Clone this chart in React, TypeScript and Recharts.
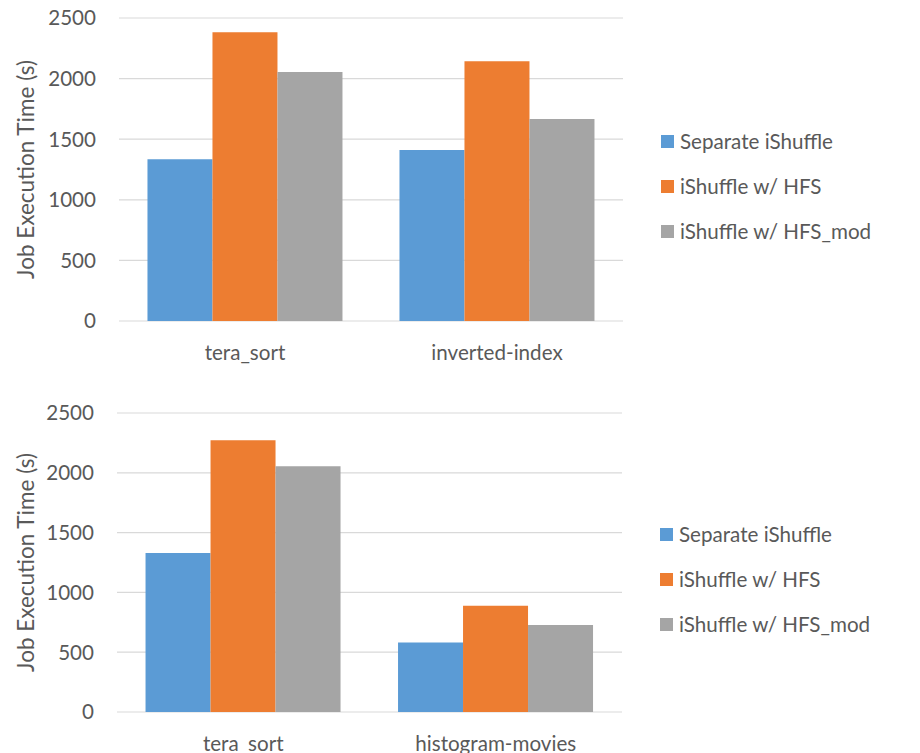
import React from 'react';
import { BarChart, Bar, XAxis, YAxis, CartesianGrid, Legend } from 'recharts';

// Job execution times (seconds) per workload
const categoriesTop = ['tera_sort', 'inverted-index'];
const separateTop = [1334, 1411];
const hfsTop = [2382, 2143];
const hfsModTop = [2054, 1667];

const categoriesBottom = ['tera_sort', 'histogram-movies'];
const separateBottom = [1330, 582];
const hfsBottom = [2272, 889];
const hfsModBottom = [2054, 727];

const yTicks = [0, 500, 1000, 1500, 2000, 2500];
const seriesNames = ['Separate iShuffle', 'iShuffle w/ HFS', 'iShuffle w/ HFS_mod'];
const seriesColors = ['#5b9bd5', '#ed7d31', '#a5a5a5'];
const yLabel = 'Job Execution Time (s)';

const TEXT = '#595959';
const FONT = 'Lato, "Open Sans", sans-serif';
const FS = 20.6;
const LABEL_FS = 22.5;

type Row = { name: string; s0: number; s1: number; s2: number };

const buildRows = (cats: string[], a: number[], b: number[], c: number[]): Row[] =>
  cats.map((name, i) => ({ name, s0: a[i], s1: b[i], s2: c[i] }));

const LEGEND_W = 250;

const renderLegend = (props: any) => {
  const payload = props.payload || [];
  return (
    <div style={{ width: LEGEND_W, paddingLeft: 38, boxSizing: 'border-box' }}>
      {payload.map((entry: any) => (
        <div
          key={entry.value}
          style={{ display: 'flex', alignItems: 'center', height: 45, color: TEXT, fontSize: FS, fontFamily: FONT, whiteSpace: 'nowrap' }}
        >
          <span style={{ display: 'inline-block', width: 13, height: 13, background: entry.color, marginRight: 6 }} />
          <span>{entry.value}</span>
        </div>
      ))}
    </div>
  );
};

// Rotated axis title, centred on the plot's vertical middle
const renderYLabel = (props: any) => {
  const vb = props.viewBox || {};
  const cx = 25;
  const cy = (vb.y || 0) + (vb.height || 0) / 2;
  return (
    <text
      x={cx}
      y={cy}
      transform={`rotate(-90, ${cx}, ${cy})`}
      textAnchor="middle"
      dominantBaseline="central"
      fill={TEXT}
      fontSize={LABEL_FS}
      fontFamily={FONT}
    >
      {yLabel}
    </text>
  );
};

type PanelProps = {
  data: Row[];
  height: number;
  top: number;
  marginTop: number;
  marginRight: number;
  yWidth: number;
  xHeight: number;
};

const Panel = ({ data, height, top, marginTop, marginRight, yWidth, xHeight }: PanelProps) => (
  <div style={{ position: 'absolute', left: 0, top }}>
    <BarChart
      width={920}
      height={height}
      data={data}
      margin={{ top: marginTop, right: marginRight, bottom: 0, left: 0 }}
      barCategoryGap="11.3%"
      barGap={0}
    >
      <CartesianGrid horizontal vertical={false} stroke="#d9d9d9" strokeWidth={1.2} />
      <XAxis
        dataKey="name"
        height={xHeight}
        axisLine={false}
        tickLine={false}
        tickSize={0}
        tickMargin={24}
        tick={{ fill: TEXT, fontSize: FS, fontFamily: FONT }}
        interval={0}
      />
      <YAxis
        width={yWidth}
        domain={[0, 2500]}
        ticks={yTicks}
        axisLine={false}
        tickLine={false}
        tickSize={0}
        tickMargin={23}
        tick={{ fill: TEXT, fontSize: FS, fontFamily: FONT }}
        label={{ value: yLabel, content: renderYLabel }}
      />
      <Legend
        layout="vertical"
        align="right"
        verticalAlign="middle"
        content={renderLegend}
      />
      {['s0', 's1', 's2'].map((key, i) => (
        <Bar
          key={key}
          dataKey={key}
          name={seriesNames[i]}
          fill={seriesColors[i]}
          isAnimationActive={false}
        />
      ))}
    </BarChart>
  </div>
);

export default function App() {
  const topRows = buildRows(categoriesTop, separateTop, hfsTop, hfsModTop);
  const bottomRows = buildRows(categoriesBottom, separateBottom, hfsBottom, hfsModBottom);
  return (
    <div
      style={{
        position: 'absolute',
        left: 0,
        top: 0,
        width: 920,
        height: 753,
        overflow: 'hidden',
        background: '#ffffff',
        fontFamily: FONT,
      }}
    >
      <Panel data={topRows} height={372} top={0} marginTop={18} marginRight={920 - 623 - LEGEND_W} yWidth={119} xHeight={51} />
      <Panel data={bottomRows} height={378} top={390} marginTop={23} marginRight={920 - 622 - LEGEND_W} yWidth={117} xHeight={56} />
    </div>
  );
}
